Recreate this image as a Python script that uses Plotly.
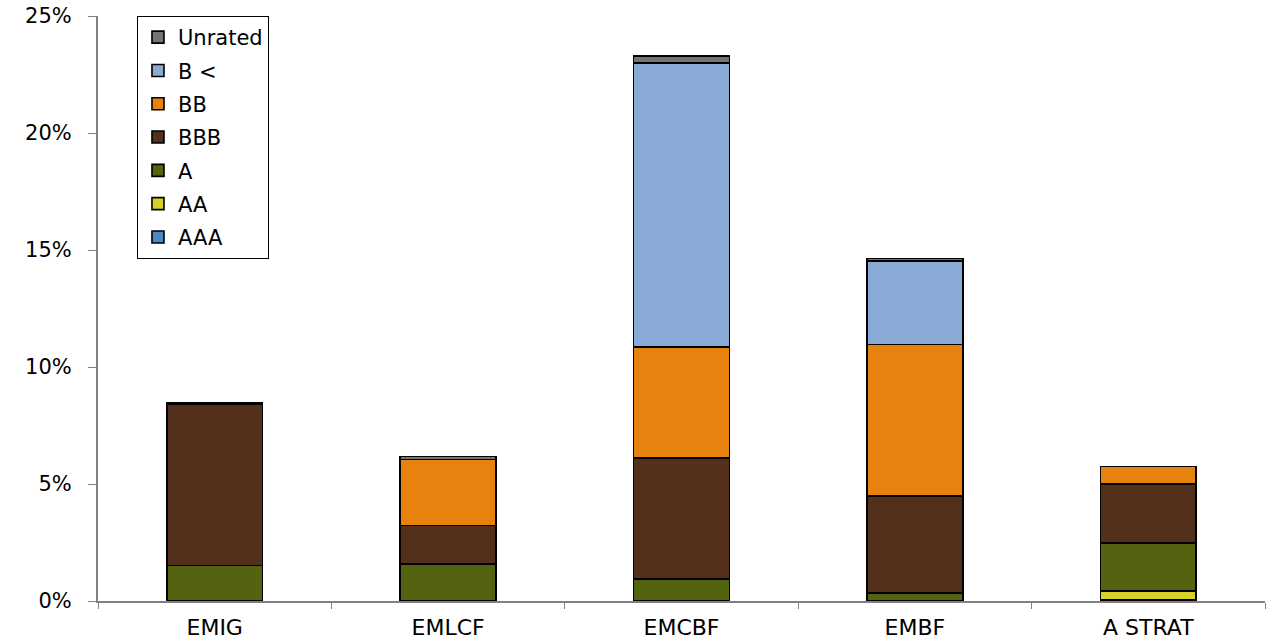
import plotly.graph_objects as go

# Funds and rating-bucket weights (% of portfolio)
funds = ["EMIG", "EMLCF", "EMCBF", "EMBF", "A STRAT"]

aaa = [0.0, 0.0, 0.0, 0.0, 0.05]
aa = [0.0, 0.0, 0.0, 0.0, 0.38]
a = [1.52, 1.59, 0.95, 0.35, 2.06]
bbb = [6.88, 1.64, 5.16, 4.13, 2.51]
bb = [0.0, 2.81, 4.75, 6.49, 0.75]
b_below = [0.0, 0.0, 12.14, 3.55, 0.0]
unrated = [0.06, 0.13, 0.30, 0.12, 0.0]

# Stacked bottom to top; the legend lists them top to bottom (Unrated first)
series = [
    ("AAA", aaa, "#4a89c3"),
    ("AA", aa, "#d5d12a"),
    ("A", a, "#53630f"),
    ("BBB", bbb, "#53301b"),
    ("BB", bb, "#e8820e"),
    ("B <", b_below, "#88aad5"),
    ("Unrated", unrated, "#747470"),
]

y_ticks = [0, 5, 10, 15, 20, 25]

FONT = "DejaVu Sans"

fig = go.Figure()
for i, (name, vals, color) in enumerate(series):
    fig.add_trace(go.Bar(
        x=funds, y=vals, name=name, legendgroup=name,
        legendrank=1000 - i,
        marker=dict(color=color, line=dict(color="black", width=1.6)),
        width=0.41,
    ))

fig.update_layout(
    width=1271, height=644,
    barmode="stack",
    plot_bgcolor="white", paper_bgcolor="white",
    margin=dict(l=98, r=6, t=16, b=43, autoexpand=False),
    font=dict(family=FONT, color="black"),
    showlegend=True,
    legend=dict(
        traceorder="grouped",
        x=0.0334, y=1, xanchor="left", yanchor="top",
        bordercolor="black", borderwidth=1, bgcolor="white",
        font=dict(size=21, family=FONT),
        tracegroupgap=3,
    ),
    xaxis=dict(
        type="category", tickson="boundaries", automargin=False,
        ticks="outside", ticklen=6, tickcolor="#808080",
        showline=True, linecolor="#808080", linewidth=2,
        tickfont=dict(size=22), ticklabelstandoff=6,
        showgrid=False,
    ),
    yaxis=dict(
        range=[0, 25], tickvals=y_ticks, automargin=False,
        ticktext=[f"{v}%" for v in y_ticks],
        ticks="outside", ticklen=8, tickcolor="#808080",
        showline=True, linecolor="#808080", linewidth=2,
        tickfont=dict(size=21), ticklabelstandoff=12,
        showgrid=False, zeroline=False,
    ),
)

fig.write_html("out.html")
